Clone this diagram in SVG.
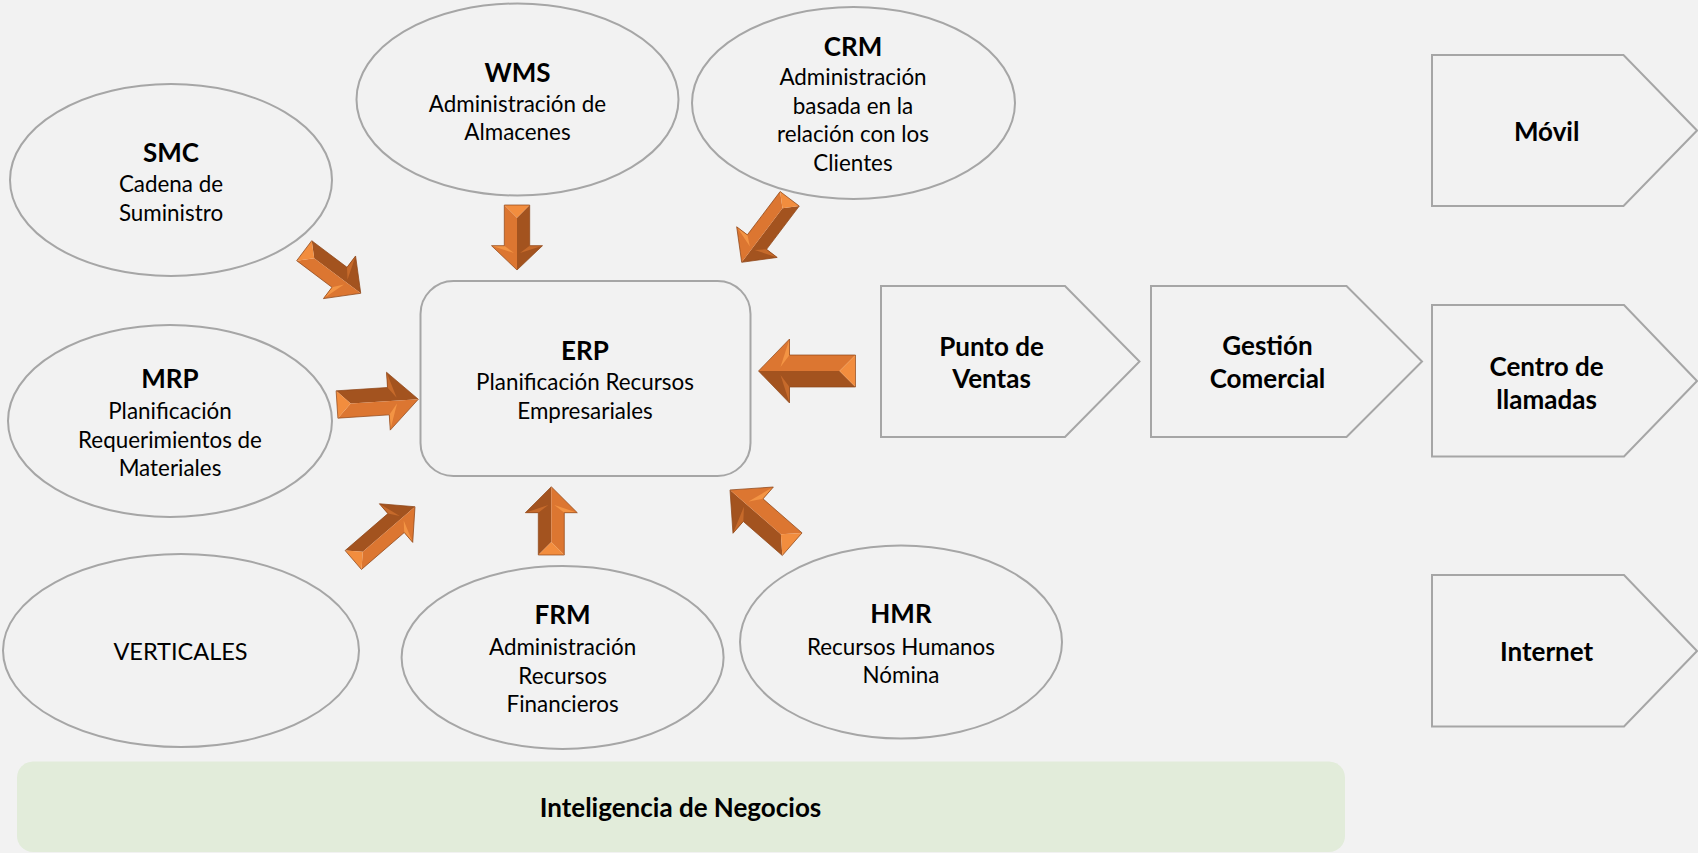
<svg xmlns="http://www.w3.org/2000/svg" width="1698" height="853" viewBox="0 0 1698 853">
<style>
.bg{fill:#f2f2f2}
.shape{fill:#f2f2f2;stroke:#a6a6a6;stroke-width:2}
.t{font-family:Lato,"Open Sans","DejaVu Sans",sans-serif;font-size:22.4px;fill:#000;text-anchor:middle}
.b{font-family:Lato,"Open Sans","DejaVu Sans",sans-serif;font-size:26px;font-weight:bold;fill:#000;text-anchor:middle}
.v{font-size:23.5px}
.ad{fill:#a3531f}
.al{fill:#dc7631}
.at{fill:#f28d3e}
.fl{fill:#f39444}
.fd{fill:#c66a2b}
.ao{fill:none;stroke:#8e4619;stroke-width:0.7;stroke-linejoin:round}
</style>
<rect class="bg" x="0" y="0" width="1698" height="853"/>

<g id="node-bi">
<rect x="17" y="761.5" width="1328" height="90.5" rx="16" fill="#e2ecda"/>
<text class="b" x="680.5" y="817">Inteligencia de Negocios</text>
</g>

<g id="node-smc">
<ellipse class="shape" cx="171" cy="180" rx="161" ry="96"/>
<text class="b" x="171" y="162">SMC</text>
<text class="t" x="171" y="192">Cadena de</text>
<text class="t" x="171" y="220.5">Suministro</text>
</g>

<g id="node-wms">
<ellipse class="shape" cx="517.5" cy="99.5" rx="161" ry="96"/>
<text class="b" x="517.5" y="82">WMS</text>
<text class="t" x="517.5" y="112">Administración de</text>
<text class="t" x="517.5" y="140">Almacenes</text>
</g>

<g id="node-crm">
<ellipse class="shape" cx="853.5" cy="103" rx="161.5" ry="96"/>
<text class="b" x="853" y="56">CRM</text>
<text class="t" x="853" y="85">Administración</text>
<text class="t" x="853" y="113.5">basada en la</text>
<text class="t" x="853" y="142">relación con los</text>
<text class="t" x="853" y="170.5">Clientes</text>
</g>

<g id="node-erp">
<rect class="shape" x="420.5" y="281" width="330" height="195" rx="33"/>
<text class="b" x="585" y="360">ERP</text>
<text class="t" x="585" y="390">Planificación Recursos</text>
<text class="t" x="585" y="419">Empresariales</text>
</g>

<g id="node-mrp">
<ellipse class="shape" cx="170" cy="421" rx="162" ry="96"/>
<text class="b" x="170" y="388">MRP</text>
<text class="t" x="170" y="419">Planificación</text>
<text class="t" x="170" y="447.5">Requerimientos de</text>
<text class="t" x="170" y="475.5">Materiales</text>
</g>

<g id="node-verticales">
<ellipse class="shape" cx="181" cy="650.5" rx="178" ry="96.5"/>
<text class="t v" x="180.5" y="659.5">VERTICALES</text>
</g>

<g id="node-frm">
<ellipse class="shape" cx="562.6" cy="657.5" rx="161" ry="91.5"/>
<text class="b" x="562.6" y="624">FRM</text>
<text class="t" x="562.6" y="655">Administración</text>
<text class="t" x="562.6" y="684">Recursos</text>
<text class="t" x="562.6" y="712">Financieros</text>
</g>

<g id="node-hmr">
<ellipse class="shape" cx="901" cy="642" rx="161" ry="96.5"/>
<text class="b" x="901" y="623">HMR</text>
<text class="t" x="901" y="655">Recursos Humanos</text>
<text class="t" x="901" y="683">Nómina</text>
</g>

<g id="node-punto">
<polygon class="shape" points="881,286 1065,286 1139.5,361.5 1065,437 881,437"/>
<text class="b" x="991.5" y="355.5">Punto de</text>
<text class="b" x="991.5" y="388">Ventas</text>
</g>

<g id="node-gestion">
<polygon class="shape" points="1151,286 1346.5,286 1422,361.5 1346.5,437 1151,437"/>
<text class="b" x="1267.5" y="355">Gestión</text>
<text class="b" x="1267.5" y="388">Comercial</text>
</g>

<g id="node-movil">
<polygon class="shape" points="1432,55 1623.5,55 1697,130.5 1623.5,206 1432,206"/>
<text class="b" x="1546.7" y="140.5">Móvil</text>
</g>

<g id="node-centro">
<polygon class="shape" points="1432,305 1624,305 1697,381 1624,456.5 1432,456.5"/>
<text class="b" x="1546.6" y="375.5">Centro de</text>
<text class="b" x="1546.6" y="408.5">llamadas</text>
</g>

<g id="node-internet">
<polygon class="shape" points="1432,575 1624,575 1697,651 1624,726.5 1432,726.5"/>
<text class="b" x="1546.6" y="660.5">Internet</text>
</g>

<g id="connectors">
<g transform="translate(304.2,250.7) rotate(37)">
<path class="ad" d="M12.5,0 L0,-12.5 L44.2,-12.5 L44.2,-26.7 L70.8,0 Z"/>
<path class="al" d="M12.5,0 L0,12.5 L44.2,12.5 L44.2,26.7 L70.8,0 Z"/>
<path class="at" d="M0,-12.5 L12.5,0 L0,12.5 Z"/>
<path class="fd" d="M44.2,-26.7 L44.2,-12.5 L52,-3 Z"/>
<path class="fl" d="M44.2,26.7 L44.2,12.5 L52,3 Z"/>
<path class="ao" d="M0,-12.5 L44.2,-12.5 L44.2,-26.7 L70.8,0 L44.2,26.7 L44.2,12.5 L0,12.5 Z"/>
</g>
<g transform="translate(517,205) rotate(90)">
<path class="ad" d="M12.7,0 L0,-12.7 L40.7,-12.7 L40.7,-25.5 L65,0 Z"/>
<path class="al" d="M12.7,0 L0,12.7 L40.7,12.7 L40.7,25.5 L65,0 Z"/>
<path class="at" d="M0,-12.7 L12.7,0 L0,12.7 Z"/>
<path class="fd" d="M40.7,-25.5 L40.7,-12.7 L48,-3 Z"/>
<path class="fl" d="M40.7,25.5 L40.7,12.7 L48,3 Z"/>
<path class="ao" d="M0,-12.7 L40.7,-12.7 L40.7,-25.5 L65,0 L40.7,25.5 L40.7,12.7 L0,12.7 Z"/>
</g>
<g transform="translate(789.7,198.8) rotate(127.1)">
<path class="ad" d="M12,0 L0,-12 L54.3,-12 L54.3,-25.4 L79.6,0 Z"/>
<path class="al" d="M12,0 L0,12 L54.3,12 L54.3,25.4 L79.6,0 Z"/>
<path class="at" d="M0,-12 L12,0 L0,12 Z"/>
<path class="fd" d="M54.3,-25.4 L54.3,-12 L62,-3 Z"/>
<path class="fl" d="M54.3,25.4 L54.3,12 L62,3 Z"/>
<path class="ao" d="M0,-12 L54.3,-12 L54.3,-25.4 L79.6,0 L54.3,25.4 L54.3,12 L0,12 Z"/>
</g>
<g transform="translate(855.5,371) rotate(180)">
<path class="ad" d="M16,0 L0,-16 L66,-16 L66,-32 L97,0 Z"/>
<path class="al" d="M16,0 L0,16 L66,16 L66,32 L97,0 Z"/>
<path class="at" d="M0,-16 L16,0 L0,16 Z"/>
<path class="fd" d="M66,-32 L66,-16 L75,-4 Z"/>
<path class="fl" d="M66,32 L66,16 L75,4 Z"/>
<path class="ao" d="M0,-16 L66,-16 L66,-32 L97,0 L66,32 L66,16 L0,16 Z"/>
</g>
<g transform="translate(337,404.5) rotate(-3.7)">
<path class="ad" d="M13.7,0 L0,-13.7 L51.5,-13.7 L51.5,-29 L81.5,0 Z"/>
<path class="al" d="M13.7,0 L0,13.7 L51.5,13.7 L51.5,29 L81.5,0 Z"/>
<path class="at" d="M0,-13.7 L13.7,0 L0,13.7 Z"/>
<path class="fd" d="M51.5,-29 L51.5,-13.7 L60,-3 Z"/>
<path class="fl" d="M51.5,29 L51.5,13.7 L60,3 Z"/>
<path class="ao" d="M0,-13.7 L51.5,-13.7 L51.5,-29 L81.5,0 L51.5,29 L51.5,13.7 L0,13.7 Z"/>
</g>
<g transform="translate(353.3,560) rotate(-40.8)">
<path class="ad" d="M12.5,0 L0,-12.5 L56.5,-12.5 L56.5,-25.5 L81.5,0 Z"/>
<path class="al" d="M12.5,0 L0,12.5 L56.5,12.5 L56.5,25.5 L81.5,0 Z"/>
<path class="at" d="M0,-12.5 L12.5,0 L0,12.5 Z"/>
<path class="fd" d="M56.5,-25.5 L56.5,-12.5 L64,-3 Z"/>
<path class="fl" d="M56.5,25.5 L56.5,12.5 L64,3 Z"/>
<path class="ao" d="M0,-12.5 L56.5,-12.5 L56.5,-25.5 L81.5,0 L56.5,25.5 L56.5,12.5 L0,12.5 Z"/>
</g>
<g transform="translate(551.3,555) rotate(-90)">
<path class="ad" d="M13,0 L0,-13 L42.3,-13 L42.3,-26 L68.3,0 Z"/>
<path class="al" d="M13,0 L0,13 L42.3,13 L42.3,26 L68.3,0 Z"/>
<path class="at" d="M0,-13 L13,0 L0,13 Z"/>
<path class="fd" d="M42.3,-26 L42.3,-13 L50,-3 Z"/>
<path class="fl" d="M42.3,26 L42.3,13 L50,3 Z"/>
<path class="ao" d="M0,-13 L42.3,-13 L42.3,-26 L68.3,0 L42.3,26 L42.3,13 L0,13 Z"/>
</g>
<g transform="translate(792.2,544.2) rotate(-138.9)">
<path class="ad" d="M15,0 L0,-15 L51.8,-15 L51.8,-30.7 L82.5,0 Z"/>
<path class="al" d="M15,0 L0,15 L51.8,15 L51.8,30.7 L82.5,0 Z"/>
<path class="at" d="M0,-15 L15,0 L0,15 Z"/>
<path class="fd" d="M51.8,-30.7 L51.8,-15 L61,-3.5 Z"/>
<path class="fl" d="M51.8,30.7 L51.8,15 L61,3.5 Z"/>
<path class="ao" d="M0,-15 L51.8,-15 L51.8,-30.7 L82.5,0 L51.8,30.7 L51.8,15 L0,15 Z"/>
</g>
</g>
</svg>
